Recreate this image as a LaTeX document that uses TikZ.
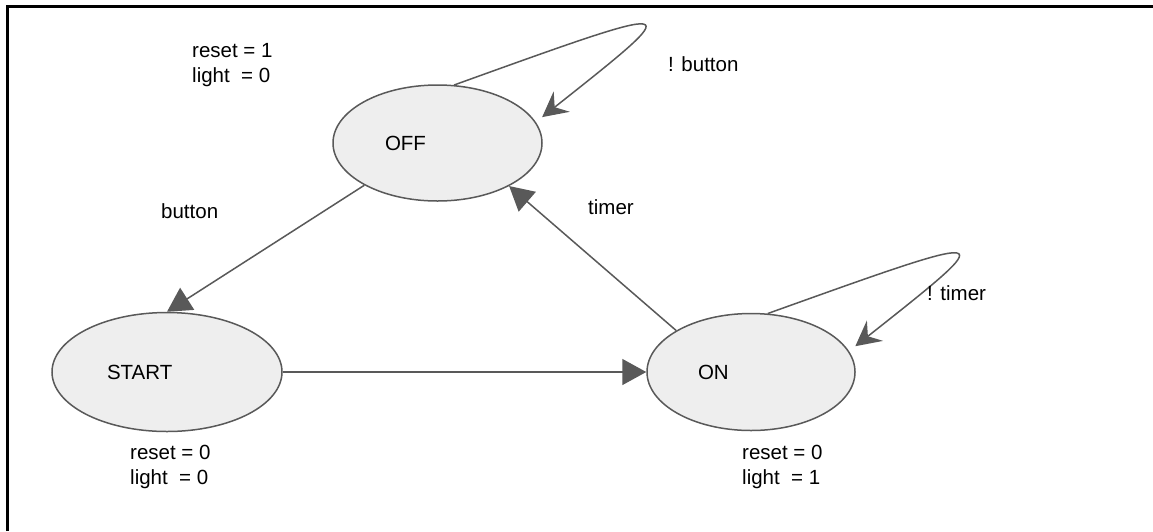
\documentclass[tikz,border=0pt]{standalone}
\usepackage{fontspec}
\setmainfont{Liberation Sans}
\usetikzlibrary{arrows.meta,shapes.geometric,calc}
\definecolor{edgec}{HTML}{595959}
\definecolor{fillc}{HTML}{EEEEEE}
\begin{document}
\begin{tikzpicture}[x=1pt,y=-1pt,
  state/.style={ellipse, draw=edgec, fill=fillc, line width=1.5pt, inner sep=0pt, align=left,
     font=\fontsize{20.5}{25}\selectfont},
  lbl/.style={font=\fontsize{20.5}{25}\selectfont, inner sep=0pt, anchor=west, align=left},
  conn/.style={draw=edgec, line width=1.5pt, -{Triangle[length=24pt,width=26pt]}},
  loopc/.style={draw=edgec, line width=1.5pt, shorten >=8pt, -{Stealth[length=25pt,width=26pt,inset=9pt]}},
  frameline/.style={line width=3pt, black}]
\useasboundingbox (0,0) rectangle (1153,531);
\fill[white] (0,0) rectangle (1153,531);
\draw[frameline] (7.5,531) -- (7.5,6.3) -- (1153,6.3);

\node[state, minimum width=209pt, minimum height=116pt, text width=105pt] (off) at (437.5,143) {OFF};
\node[state, minimum width=230pt, minimum height=119pt, text width=120pt] (start) at (167,372) {START};
\node[state, minimum width=208pt, minimum height=117pt, text width=106pt] (on) at (751,372) {ON};

\draw[conn] (off.210) -- (start.north);
\draw[conn] (start.east) -- (on.west);
\draw[conn] (on.151) -- (off.329);
\draw[loopc] (off.74) .. controls ($(off.center)+(252.5,-143)$) and ($(off.center)+(252.5,-143)$) .. (off.12);
\draw[loopc] (on.74) .. controls ($(on.center)+(252.5,-143)$) and ($(on.center)+(252.5,-143)$) .. (on.12);

\node[lbl] (offout) at (192,65.5) {reset = 1\\light\ \ = 0};
\node[lbl] (startout) at (130,467) {reset = 0\\light\ \ = 0};
\node[lbl] (onout) at (742,467) {reset = 0\\light\ \ = 1};
\node[lbl] (lbutton) at (161,211) {button};
\node[lbl] (ltimer) at (588,207) {timer};
\node[lbl] (lnbutton) at (668,64) {! button};
\node[lbl] (lntimer) at (927,293) {! timer};
\end{tikzpicture}
\end{document}
